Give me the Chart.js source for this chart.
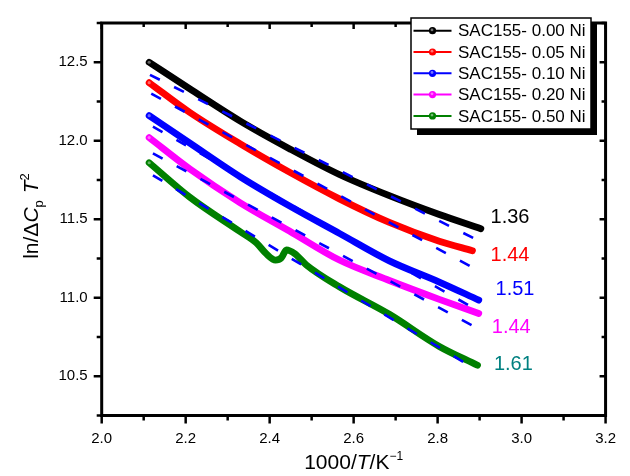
<!DOCTYPE html>
<html><head><meta charset="utf-8">
<script src="https://cdn.jsdelivr.net/npm/chart.js@4.4.1/dist/chart.umd.min.js"></script>
<style>html,body{margin:0;padding:0;background:#fff;overflow:hidden}canvas{display:block}</style>
</head><body>
<canvas id="c" width="630" height="476"></canvas>
<script>
// ---------- data ----------
const seriesNames = ['SAC155- 0.00 Ni','SAC155- 0.05 Ni','SAC155- 0.10 Ni','SAC155- 0.20 Ni','SAC155- 0.50 Ni'];
const seriesColors = ['#000000','#ff0000','#0000ff','#ff00ff','#008000'];

const x000 = [2.113, 2.21, 2.33, 2.45, 2.566, 2.685, 2.804, 2.903];
const y000 = [12.50, 12.33, 12.125, 11.945, 11.785, 11.65, 11.53, 11.44];

const x005 = [2.113, 2.21, 2.33, 2.447, 2.566, 2.685, 2.804, 2.883];
const y005 = [12.37, 12.18, 11.98, 11.80, 11.63, 11.48, 11.36, 11.30];

const x010 = [2.113, 2.21, 2.33, 2.447, 2.566, 2.685, 2.804, 2.898];
const y010 = [12.16, 11.985, 11.77, 11.585, 11.41, 11.235, 11.10, 10.985];

const x020 = [2.113, 2.21, 2.33, 2.447, 2.566, 2.685, 2.804, 2.898];
const y020 = [12.02, 11.82, 11.605, 11.425, 11.24, 11.11, 10.99, 10.90];

const x050 = [2.113, 2.21, 2.33, 2.368, 2.392, 2.414, 2.428, 2.44, 2.46, 2.487, 2.566, 2.685, 2.804, 2.895];
const y050 = [11.86, 11.64, 11.42, 11.35, 11.28, 11.24, 11.255, 11.305, 11.28, 11.21, 11.07, 10.895, 10.69, 10.57];

// linear fits (start / end)
const fitX0 = [2.115, 2.118, 2.122, 2.122, 2.122];
const fitX1 = [2.900, 2.885, 2.895, 2.895, 2.890];
const fitY0 = [12.42, 12.30, 12.09, 11.92, 11.78];
const fitY1 = [11.36, 11.19, 10.92, 10.805, 10.545];

const slopeLabels = ['1.36','1.44','1.51','1.44','1.61'];
const slopeColors = ['#000000','#ff0000','#0000ff','#ff00ff','#008080'];

const xTicks = [2.0, 2.2, 2.4, 2.6, 2.8, 3.0, 3.2];
const yTicks = [10.5, 11.0, 11.5, 12.0, 12.5];

// ---------- layout constants (annotation anchors in data units) ----------
const slopeLabelX = [2.926, 2.926, 2.938, 2.929, 2.934];
const slopeLabelY = [11.509, 11.272, 11.054, 10.813, 10.577];

const FONT = '"Liberation Sans", Arial, Helvetica, sans-serif';
const xs = [x000, x005, x010, x020, x050];
const ys = [y000, y005, y010, y020, y050];

const datasets = [];
for (let i = 0; i < 5; i++) {
  datasets.push({
    label: seriesNames[i],
    data: xs[i].map((v, k) => ({x: v, y: ys[i][k]})),
    borderColor: seriesColors[i],
    backgroundColor: seriesColors[i],
    borderWidth: 6.8,
    pointRadius: 0,
    cubicInterpolationMode: 'monotone',
    borderCapStyle: 'round',
    borderJoinStyle: 'round',
    order: 5 - i
  });
}
for (let i = 0; i < 5; i++) {
  datasets.push({
    label: 'fit' + i,
    data: [{x: fitX0[i], y: fitY0[i]}, {x: fitX1[i], y: fitY1[i]}],
    borderColor: '#0000ff',
    borderWidth: 2.6,
    borderDash: [11, 16],
    pointRadius: 0,
    order: 0
  });
}

function drawRuns(ctx, runs, x, baseline) {
  let w = 0;
  runs.forEach(r => { ctx.font = r.f; w += ctx.measureText(r.t).width + (r.gap || 0); });
  let cx = x - w / 2;
  runs.forEach(r => {
    ctx.font = r.f;
    ctx.fillText(r.t, cx, baseline + (r.dy || 0));
    cx += ctx.measureText(r.t).width + (r.gap || 0);
  });
}

const decorPlugin = {
  id: 'decor',
  afterDraw(chart) {
    const {ctx, chartArea: a, scales: {x, y}} = chart;
    ctx.save();
    // frame
    ctx.strokeStyle = '#000';
    ctx.lineWidth = 3;
    ctx.strokeRect(a.left, a.top, a.right - a.left, a.bottom - a.top);
    // ticks
    ctx.lineWidth = 2.5;
    ctx.lineCap = 'butt';
    const line = (x1, y1, x2, y2) => { ctx.beginPath(); ctx.moveTo(x1, y1); ctx.lineTo(x2, y2); ctx.stroke(); };
    for (let k = 0; k <= 12; k++) {
      const v = 2.0 + k * 0.1;
      const px = x.getPixelForValue(v);
      const major = k % 2 === 0;
      line(px, a.bottom, px, a.bottom + (major ? 8 : 5));
      line(px, a.top, px, a.top + (major ? 6 : 4));
    }
    for (let k = 0; k <= 10; k++) {
      const v = 10.25 + k * 0.25;
      const py = y.getPixelForValue(v);
      const major = k % 2 === 1;
      line(a.left, py, a.left - (major ? 8 : 5), py);
      line(a.right, py, a.right - (major ? 6 : 4), py);
    }
    // start markers
    for (let i = 0; i < 5; i++) {
      const px = x.getPixelForValue(xs[i][0]), py = y.getPixelForValue(ys[i][0]);
      ctx.fillStyle = 'rgba(255,255,255,0.4)';
      ctx.beginPath(); ctx.arc(px, py, 1.6, 0, Math.PI * 2); ctx.fill();
    }
    // axis titles
    ctx.fillStyle = '#000';
    ctx.textAlign = 'left';
    ctx.textBaseline = 'alphabetic';
    const f = (s, it) => (it ? 'italic ' : '') + s + 'px ' + FONT;
    drawRuns(ctx, [
      {t: '1000/', f: f(21)},
      {t: 'T', f: f(21, true)},
      {t: '/K', f: f(21)},
      {t: '\u22121', f: f(12), dy: -9}
    ], (a.left + a.right) / 2, 469);
    ctx.save();
    ctx.translate(30, 216);
    ctx.rotate(-Math.PI / 2);
    drawRuns(ctx, [
      {t: 'ln/\u0394', f: f(21)},
      {t: 'C', f: f(21, true)},
      {t: 'p', f: f(13), dy: 5, gap: 7},
      {t: 'T', f: f(21, true)},
      {t: '2', f: f(13), dy: -9}
    ], 0, 7.5);
    ctx.restore();
    // slope labels
    ctx.font = '20px ' + FONT;
    ctx.textBaseline = 'middle';
    for (let i = 0; i < 5; i++) {
      ctx.fillStyle = slopeColors[i];
      ctx.fillText(slopeLabels[i], x.getPixelForValue(slopeLabelX[i]), y.getPixelForValue(slopeLabelY[i]));
    }
    // legend
    const lx = 411, ly = 18, lw = 180, lh = 111;
    ctx.fillStyle = '#000';
    ctx.fillRect(lx + 6, ly + 6, lw, lh);
    ctx.fillStyle = '#fff';
    ctx.fillRect(lx, ly, lw, lh);
    ctx.lineWidth = 1.5;
    ctx.strokeStyle = '#000';
    ctx.strokeRect(lx, ly, lw, lh);
    ctx.font = '17px ' + FONT;
    for (let i = 0; i < 5; i++) {
      const cy = 30.7 + i * 21.3;
      ctx.strokeStyle = seriesColors[i];
      ctx.lineWidth = 2;
      line(413.5, cy, 451.5, cy);
      ctx.fillStyle = seriesColors[i];
      ctx.beginPath(); ctx.arc(432.5, cy, 3.6, 0, Math.PI * 2); ctx.fill();
      ctx.fillStyle = 'rgba(255,255,255,0.45)';
      ctx.beginPath(); ctx.arc(432, cy - 0.8, 1.4, 0, Math.PI * 2); ctx.fill();
      ctx.fillStyle = '#000';
      ctx.fillText(seriesNames[i], 458, cy + 1);
    }
    ctx.restore();
  }
};

new Chart(document.getElementById('c'), {
  type: 'line',
  data: {datasets},
  plugins: [decorPlugin],
  options: {
    responsive: false,
    devicePixelRatio: 1,
    animation: false,
    layout: {padding: {left: 0, top: 11.2, right: 23.3, bottom: 0}},
    plugins: {legend: {display: false}, tooltip: {enabled: false}},
    scales: {
      x: {
        type: 'linear', min: 2.0, max: 3.2,
        afterBuildTicks: s => { s.ticks = xTicks.map(v => ({value: v})); },
        afterFit: s => { s.height = 60.5; },
        grid: {display: false, drawTicks: false},
        border: {display: false},
        ticks: {font: {size: 15, family: FONT}, color: '#000', padding: 14, maxRotation: 0,
                callback: v => v.toFixed(1)}
      },
      y: {
        type: 'linear', min: 10.25, max: 12.75,
        afterBuildTicks: s => { s.ticks = yTicks.map(v => ({value: v})); },
        afterFit: s => { s.width = 101.7; },
        grid: {display: false, drawTicks: false},
        border: {display: false},
        ticks: {font: {size: 15, family: FONT}, color: '#000', padding: 14,
                callback: v => v.toFixed(1)}
      }
    }
  }
});
</script>
</body></html>
